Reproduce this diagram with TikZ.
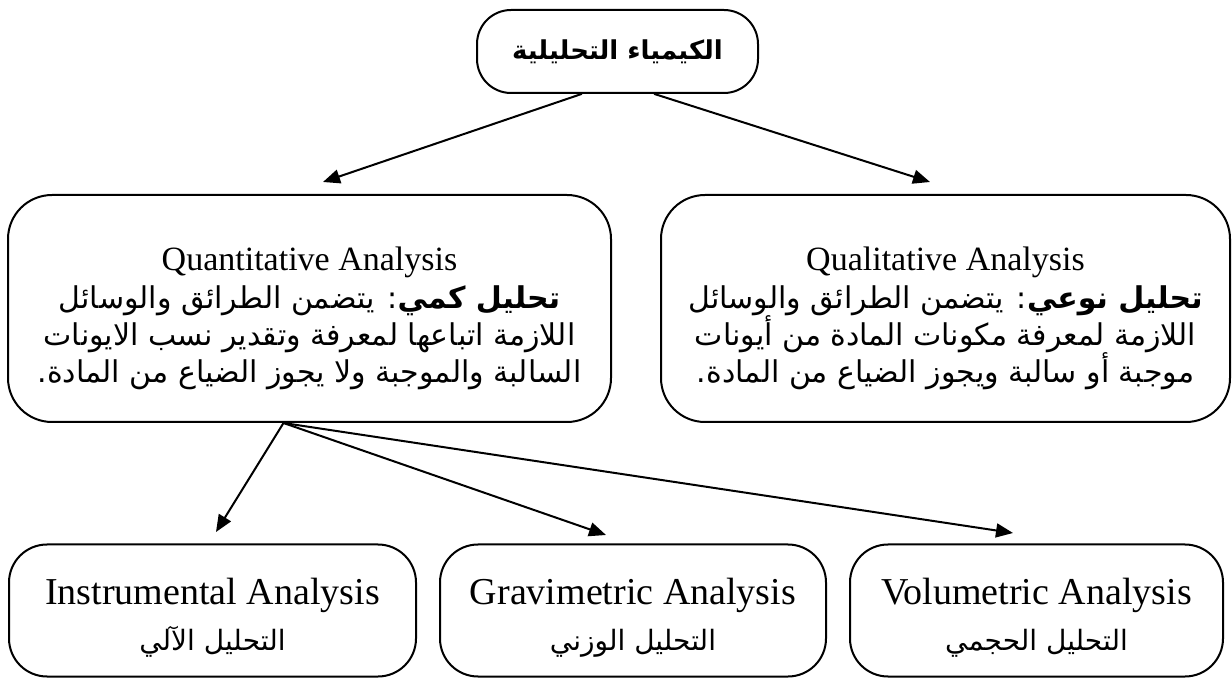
\documentclass[tikz,border=0pt]{standalone}
\usepackage{fontspec}
\setmainfont{Liberation Serif}
\newfontfamily\arabicfont[Script=Arabic]{DejaVu Sans}
\TeXXeTstate=1
\usetikzlibrary{arrows.meta}
\newcommand\artext[2][15]{{\arabicfont\fontsize{#1}{18}\selectfont\beginR #2\endR}}

\begin{document}
\begin{tikzpicture}[x=0.5pt,y=-0.5pt,line join=round,line cap=round,>={Triangle[length=8.5pt,width=7pt]},
	box/.style={draw,line width=1pt,align=center,inner sep=0pt},
	topbox/.style={box,rounded corners=17pt,minimum width=140.5pt,minimum height=41.5pt,font=\fontsize{17}{20}\selectfont},
	midbox/.style={box,rounded corners=22pt,minimum height=113.5pt,font=\fontsize{17}{18.7}\selectfont},
	lowbox/.style={box,rounded corners=19pt,minimum height=66pt,font=\fontsize{19}{23}\selectfont},
	link/.style={->,line width=1pt}]
		\useasboundingbox (0,0) rectangle (1232,678);
		% top
		\node[topbox] (chem) at (617.5,51.5) {\artext[13]{\bfseries الكيمياء التحليلية}};
		% second row
		\node[midbox,minimum width=301.5pt] (quant) at (309.5,308.5) {\rule{0pt}{22pt}Quantitative Analysis\\
			\artext{{\bfseries تحليل كمي}: يتضمن الطرائق والوسائل}\\
			\artext{اللازمة اتباعها لمعرفة وتقدير نسب الايونات}\\
			\artext{السالبة والموجبة ولا يجوز الضياع من المادة.}};
		\node[midbox,minimum width=284.5pt] (qual) at (945.5,308.5) {\rule{0pt}{22pt}Qualitative Analysis\\
			\artext{{\bfseries تحليل نوعي}: يتضمن الطرائق والوسائل}\\
			\artext{اللازمة لمعرفة مكونات المادة من أيونات}\\
			\artext{موجبة أو سالبة ويجوز الضياع من المادة.}};
		% third row
		\node[lowbox,minimum width=203.5pt] (instr) at (212.5,610.5) {\rule{0pt}{20pt}Instrumental Analysis\\ \artext[14]{التحليل الآلي}};
		\node[lowbox,minimum width=193pt] (grav) at (633,610.5) {\rule{0pt}{20pt}Gravimetric Analysis\\ \artext[14]{التحليل الوزني}};
		\node[lowbox,minimum width=186.5pt] (vol) at (1036.5,610.5) {\rule{0pt}{20pt}Volumetric Analysis\\ \artext[14]{التحليل الحجمي}};
		% arrow tips
		\coordinate (tipQuant) at (323,182);
		\coordinate (tipQual) at (930,182);
		\coordinate (tipInstr) at (216,532);
		\coordinate (tipGrav) at (606,535);
		\coordinate (tipVol) at (1013,533);
		\draw[link] ([xshift=-18pt]chem.south)--(tipQuant);
		\draw[link] ([xshift=18.5pt]chem.south)--(tipQual);
		\draw[link] ([xshift=-13pt]quant.south)--(tipInstr);
		\draw[link] ([xshift=-13pt]quant.south)--(tipGrav);
		\draw[link] ([xshift=-13pt]quant.south)--(tipVol);
	\end{tikzpicture}
\end{document}
